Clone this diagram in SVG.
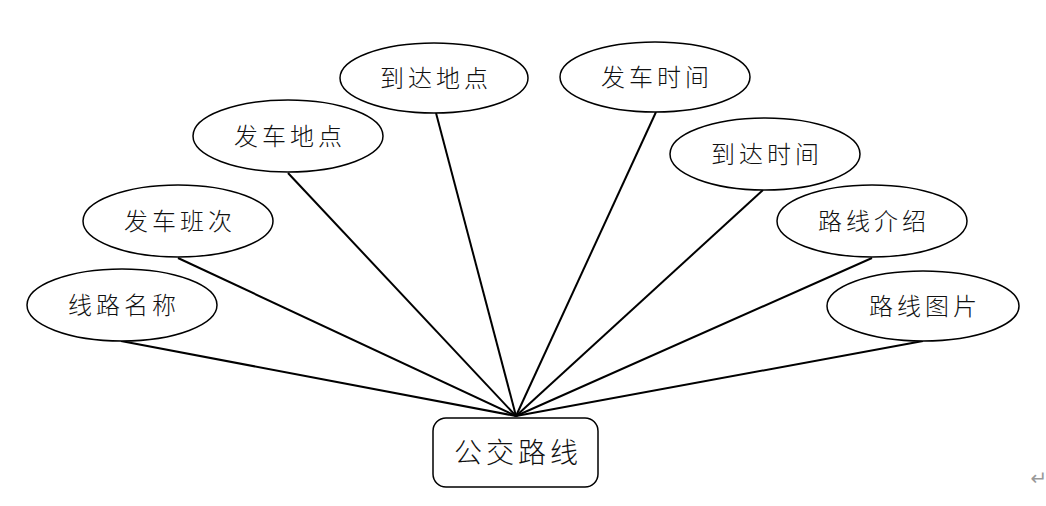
<svg xmlns="http://www.w3.org/2000/svg" width="1046" height="506" viewBox="0 0 1046 506">
<style>
.n ellipse,.n rect{fill:#fff;stroke:#000;stroke-width:1.5}
.n text{font-family:"Noto Sans CJK SC","Noto Sans CJK JP",sans-serif;font-weight:300;font-size:24px;letter-spacing:4px;fill:#111;text-anchor:middle;dominant-baseline:central}
#conn line{stroke:#000;stroke-width:2}
</style>
<rect width="1046" height="506" fill="#fff"/>
<g id="conn">
<line x1="121" y1="341" x2="516" y2="416"/>
<line x1="178" y1="258" x2="516" y2="416"/>
<line x1="288" y1="173" x2="516" y2="416"/>
<line x1="436" y1="113" x2="516" y2="416"/>
<line x1="656" y1="112" x2="516" y2="416"/>
<line x1="763" y1="190" x2="516" y2="416"/>
<line x1="872" y1="258" x2="516" y2="416"/>
<line x1="923" y1="341" x2="516" y2="416"/>
</g>
<g id="n1" class="n"><ellipse cx="122" cy="305" rx="95" ry="36"/><text x="124" y="303">线路名称</text></g>
<g id="n2" class="n"><ellipse cx="178" cy="221" rx="95" ry="36"/><text x="180" y="219">发车班次</text></g>
<g id="n3" class="n"><ellipse cx="288" cy="136" rx="95" ry="36"/><text x="290" y="134">发车地点</text></g>
<g id="n4" class="n"><ellipse cx="434" cy="78" rx="94" ry="35"/><text x="436" y="76">到达地点</text></g>
<g id="n5" class="n"><ellipse cx="655" cy="77" rx="95" ry="35"/><text x="657" y="75">发车时间</text></g>
<g id="n6" class="n"><ellipse cx="765" cy="154" rx="95" ry="36"/><text x="767" y="152">到达时间</text></g>
<g id="n7" class="n"><ellipse cx="872" cy="221" rx="95" ry="36"/><text x="874" y="219">路线介绍</text></g>
<g id="n8" class="n"><ellipse cx="923" cy="306" rx="96" ry="35"/><text x="925" y="304">路线图片</text></g>
<g id="center" class="n"><rect x="433" y="418" width="165" height="69" rx="13"/><text x="518" y="451" style="font-size:28px">公交路线</text></g>
<text x="1039" y="478" style="font-family:'DejaVu Sans',sans-serif;font-size:20px;fill:#999;text-anchor:middle;dominant-baseline:central">↵</text>
</svg>
